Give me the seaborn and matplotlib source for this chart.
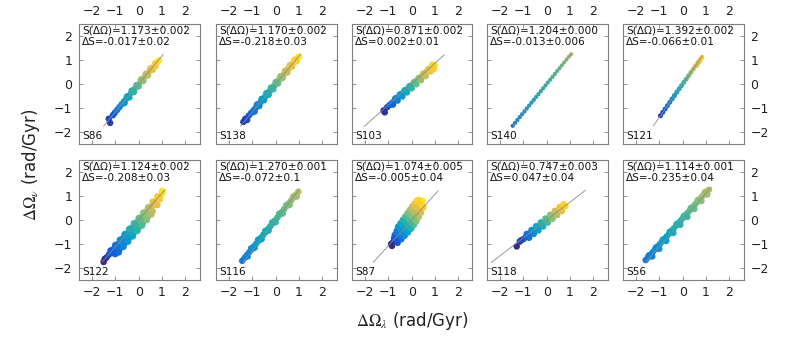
import numpy as np
import matplotlib
matplotlib.use("Agg")
import matplotlib.pyplot as plt
from matplotlib.colors import LinearSegmentedColormap
import seaborn as sns

# panel order: top row left->right, then bottom row
NAMES = ["S86", "S138", "S103", "S140", "S121", "S122", "S116", "S87", "S118", "S56"]
S_VAL = [1.173, 1.170, 0.871, 1.204, 1.392, 1.124, 1.270, 1.074, 0.747, 1.114]
S_ERR = [0.002, 0.002, 0.002, 0.000, 0.002, 0.002, 0.001, 0.005, 0.003, 0.001]
DS_VAL = [-0.017, -0.218, 0.002, -0.013, -0.066, -0.208, -0.072, -0.005, 0.047, -0.235]
DS_ERR = [0.02, 0.03, 0.01, 0.006, 0.01, 0.03, 0.1, 0.04, 0.04, 0.04]
# x range of the fitted line y = S*x
LINE_X0 = [-1.50, -1.50, -2.03, -1.45, -1.26, -1.57, -1.39, -1.65, -2.37, -1.59]
LINE_X1 = [1.06, 1.07, 1.40, 1.05, 0.86, 1.13, 1.00, 1.14, 1.66, 1.22]
# colour range (parula fraction) of each cloud, low end -> high end
C_LO = [0.08, 0.08, 0.05, 0.22, 0.08, 0.05, 0.25, 0.05, 0.05, 0.24]
C_HI = [0.90, 0.92, 0.90, 0.66, 0.85, 0.90, 0.68, 0.90, 0.90, 0.68]

X_S86 = [-1.02, -0.92, -0.82, -0.72, -0.62, -0.52, -0.42, -0.32, -0.22, -0.12, -0.02, 0.08, 0.18, 0.28,
         0.38, 0.48, 0.58, 0.68, 0.78, 0.86, -0.60, -0.40, -0.20, 0.00, 0.20, 0.40, 0.60, 0.72,
         -0.50, -0.30, -0.10, 0.10, 0.30, 0.50, 0.70, -1.28, -1.22, -1.10]
Y_S86 = [-1.20, -1.08, -0.96, -0.84, -0.72, -0.60, -0.49, -0.37, -0.26, -0.14, -0.03, 0.09, 0.20, 0.32,
         0.43, 0.55, 0.66, 0.78, 0.89, 0.98, -0.79, -0.56, -0.33, -0.10, 0.13, 0.36, 0.59, 0.74,
         -0.52, -0.28, -0.05, 0.19, 0.42, 0.65, 0.86, -1.45, -1.62, -1.30]

X_S138 = [-1.15, -1.05, -0.95, -0.85, -0.75, -0.65, -0.55, -0.45, -0.35, -0.25, -0.15, -0.05, 0.05, 0.15,
          0.25, 0.35, 0.45, 0.55, 0.65, 0.75, 0.85, 0.95, 1.00,
          -0.90, -0.70, -0.50, -0.30, -0.10, 0.10, 0.30, 0.50, 0.70, 0.90,
          -0.80, -0.60, -0.40, -0.20, 0.00, 0.20, 0.40, 0.60, 0.80, -1.30, -1.38, -1.22]
Y_S138 = [-1.32, -1.21, -1.10, -0.99, -0.88, -0.76, -0.64, -0.53, -0.41, -0.29, -0.17, -0.06, 0.06, 0.18,
          0.29, 0.41, 0.53, 0.64, 0.76, 0.88, 0.99, 1.10, 1.14,
          -1.15, -0.92, -0.68, -0.45, -0.22, 0.02, 0.25, 0.48, 0.72, 0.95,
          -0.85, -0.62, -0.38, -0.15, 0.08, 0.32, 0.55, 0.78, 1.01, -1.45, -1.58, -1.50]

X_S103 = [-1.05, -0.95, -0.85, -0.75, -0.65, -0.55, -0.45, -0.35, -0.25, -0.15, -0.05, 0.05, 0.15, 0.25,
          0.35, 0.45, 0.55, 0.65, 0.75, 0.85, 0.92,
          -0.80, -0.60, -0.40, -0.20, 0.00, 0.20, 0.40, 0.60, 0.80,
          -0.70, -0.50, -0.30, -0.10, 0.10, 0.30, 0.50, 0.70, 0.88, -1.20, -1.15, 0.98, 0.95]
Y_S103 = [-0.97, -0.88, -0.80, -0.71, -0.62, -0.53, -0.45, -0.36, -0.27, -0.18, -0.10, -0.01, 0.08, 0.17,
          0.25, 0.34, 0.43, 0.52, 0.60, 0.69, 0.72,
          -0.86, -0.69, -0.52, -0.35, -0.18, -0.01, 0.16, 0.33, 0.52,
          -0.60, -0.43, -0.26, -0.09, 0.08, 0.25, 0.44, 0.62, 0.80, -1.10, -1.18, 0.78, 0.62]

X_S140 = [-1.45, -1.35, -1.25, -1.15, -1.05, -0.95, -0.85, -0.75, -0.65, -0.55, -0.45, -0.35, -0.25,
          -0.15, -0.05, 0.05, 0.15, 0.25, 0.35, 0.45, 0.55, 0.65, 0.75, 0.85, 0.95, 1.05]
Y_S140 = [-1.74, -1.62, -1.50, -1.38, -1.26, -1.14, -1.02, -0.90, -0.78, -0.66, -0.54, -0.42, -0.30,
          -0.18, -0.06, 0.06, 0.18, 0.30, 0.42, 0.54, 0.66, 0.78, 0.90, 1.02, 1.14, 1.24]

X_S121 = [-0.95, -0.85, -0.75, -0.65, -0.55, -0.45, -0.35, -0.25, -0.15, -0.05, 0.05, 0.15, 0.25,
          0.35, 0.45, 0.55, 0.65, 0.75, 0.82, 0.60, 0.70]
Y_S121 = [-1.32, -1.18, -1.04, -0.90, -0.76, -0.62, -0.48, -0.34, -0.20, -0.07, 0.07, 0.20, 0.34,
          0.48, 0.62, 0.75, 0.89, 1.02, 1.10, 0.78, 0.92]

X_S122 = [-1.37, -1.27, -1.17, -1.07, -0.97, -0.87, -0.77, -0.67, -0.57, -0.47, -0.37, -0.27, -0.17,
          -0.07, 0.03, 0.13, 0.23, 0.33, 0.43, 0.53, 0.63, 0.73, 0.83, 0.93, 1.03,
          -1.10, -0.90, -0.70, -0.50, -0.30, -0.10, 0.10, 0.30, 0.50, 0.70, 0.90,
          -1.00, -0.80, -0.60, -0.40, -0.20, 0.00, 0.20, 0.40, 0.60, 0.80,
          -0.85, -0.65, -0.45, -0.25, -0.05, 0.15, 0.35, 0.55,
          -1.20, -1.00, -0.80, -0.60, -0.40, -0.20, 0.00, 0.20, 0.40, 0.60, 0.80, 1.00, -1.45, -1.50]
Y_S122 = [-1.56, -1.44, -1.32, -1.21, -1.10, -0.99, -0.88, -0.76, -0.65, -0.54, -0.43, -0.31, -0.20,
          -0.09, 0.02, 0.13, 0.24, 0.36, 0.47, 0.58, 0.69, 0.80, 0.91, 1.02, 1.14,
          -1.38, -1.16, -0.93, -0.71, -0.49, -0.27, -0.04, 0.18, 0.40, 0.63, 0.86,
          -1.42, -1.20, -0.98, -0.75, -0.53, -0.31, -0.08, 0.14, 0.37, 0.62,
          -1.35, -1.12, -0.90, -0.68, -0.45, -0.23, 0.00, 0.24,
          -1.27, -1.04, -0.82, -0.59, -0.37, -0.14, 0.08, 0.31, 0.53, 0.76, 0.98, 1.21, -1.62, -1.75]

X_S116 = [-1.43, -1.33, -1.23, -1.13, -1.03, -0.93, -0.83, -0.73, -0.63, -0.53, -0.43, -0.33, -0.23,
          -0.13, -0.03, 0.07, 0.17, 0.27, 0.37, 0.47, 0.57, 0.67, 0.77, 0.87, 0.97,
          -1.20, -0.90, -0.60, -0.30, 0.00, 0.30, 0.60, 0.90,
          -1.05, -0.75, -0.45, -0.15, 0.15, 0.45, 0.75]
Y_S116 = [-1.70, -1.58, -1.46, -1.34, -1.22, -1.10, -0.98, -0.86, -0.74, -0.62, -0.50, -0.38, -0.26,
          -0.14, -0.02, 0.10, 0.22, 0.34, 0.46, 0.58, 0.70, 0.82, 0.94, 1.06, 1.18,
          -1.52, -1.16, -0.80, -0.44, -0.09, 0.27, 0.63, 0.98,
          -1.18, -0.82, -0.46, -0.10, 0.26, 0.62, 0.98]

X_S87 = [-0.78, -0.70, -0.60, -0.50, -0.40, -0.30, -0.20, -0.10, 0.00, 0.10, 0.20, 0.30, 0.40, 0.47,
         -0.72, -0.64, -0.58, -0.48, -0.38, -0.28, -0.18, -0.08, 0.02, 0.12, 0.22, 0.30,
         -0.75, -0.62, -0.50, -0.38, -0.26, -0.14, -0.02, 0.10, 0.22, 0.34,
         -0.60, -0.44, -0.30, -0.16, -0.02, 0.10, 0.20, 0.30, 0.40, 0.50,
         -0.66, -0.52, -0.40, -0.28, -0.16, -0.04, 0.08, 0.20, 0.32, 0.44, -0.88, -0.84]
Y_S87 = [-0.90, -0.80, -0.67, -0.54, -0.41, -0.28, -0.15, -0.02, 0.11, 0.24, 0.37, 0.50, 0.63, 0.80,
         -0.62, -0.45, -0.28, -0.14, 0.00, 0.14, 0.28, 0.42, 0.56, 0.68, 0.80, 0.84,
         -0.75, -0.52, -0.36, -0.22, -0.08, 0.06, 0.20, 0.36, 0.52, 0.68,
         -0.95, -0.80, -0.66, -0.52, -0.36, -0.20, -0.05, 0.12, 0.30, 0.52,
         -0.88, -0.66, -0.52, -0.38, -0.24, -0.10, 0.05, 0.22, 0.40, 0.62, -1.00, -1.08]

X_S118 = [-1.00, -0.90, -0.80, -0.70, -0.60, -0.50, -0.40, -0.30, -0.20, -0.10, 0.00, 0.10, 0.20, 0.30,
          0.40, 0.50, 0.60, 0.70, 0.80,
          -0.85, -0.65, -0.45, -0.25, -0.05, 0.15, 0.35, 0.55, 0.72,
          -0.75, -0.55, -0.35, -0.15, 0.05, 0.25, 0.45, 0.65, -1.28, -1.15, -1.10]
Y_S118 = [-0.80, -0.72, -0.64, -0.56, -0.48, -0.40, -0.32, -0.25, -0.17, -0.09, -0.01, 0.07, 0.15, 0.22,
          0.30, 0.38, 0.46, 0.52, 0.58,
          -0.58, -0.42, -0.26, -0.10, 0.06, 0.22, 0.38, 0.54, 0.66,
          -0.74, -0.58, -0.43, -0.27, -0.11, 0.05, 0.21, 0.37, -1.10, -0.90, -0.85]

X_S56 = [-1.58, -1.48, -1.38, -1.28, -1.18, -1.08, -0.98, -0.88, -0.78, -0.68, -0.58, -0.48, -0.38, -0.28,
         -0.18, -0.08, 0.02, 0.12, 0.22, 0.32, 0.42, 0.52, 0.62, 0.72, 0.82, 0.92, 1.02, 1.12,
         -1.30, -1.00, -0.70, -0.40, -0.10, 0.20, 0.50, 0.80, 1.05,
         -1.45, -1.15, -0.85, -0.55, -0.25, 0.05, 0.35, 0.65, 0.95]
Y_S56 = [-1.67, -1.56, -1.45, -1.34, -1.23, -1.12, -1.01, -0.90, -0.79, -0.68, -0.57, -0.46, -0.35, -0.24,
         -0.13, -0.02, 0.09, 0.20, 0.31, 0.42, 0.53, 0.64, 0.75, 0.86, 0.97, 1.08, 1.19, 1.26,
         -1.52, -1.20, -0.87, -0.54, -0.20, 0.13, 0.46, 0.79, 1.06,
         -1.48, -1.15, -0.82, -0.49, -0.16, 0.17, 0.50, 0.83, 1.16]

CLOUDS_X = [X_S86, X_S138, X_S103, X_S140, X_S121, X_S122, X_S116, X_S87, X_S118, X_S56]
CLOUDS_Y = [Y_S86, Y_S138, Y_S103, Y_S140, Y_S121, Y_S122, Y_S116, Y_S87, Y_S118, Y_S56]
TICKS = [-2, -1, 0, 1, 2]

parula = LinearSegmentedColormap.from_list(
    "parula", ["#352a87", "#0f5cdd", "#1481d6", "#06a4ca", "#2eb7a4",
               "#87bf77", "#d1bb59", "#fec832", "#f9fb0e"])

sns.set_theme(style="white")
plt.rcParams["font.family"] = ["DejaVu Sans"]
plt.rcParams["mathtext.fontset"] = "stix"

FRAME = "#7f7f7f"
fig = plt.figure(figsize=(7.89, 3.55), dpi=100)

lefts = [79, 216, 352, 487, 623]
tops = [24, 160]
W, H = 120.5, 120

for i, name in enumerate(NAMES):
    row, col = divmod(i, 5)
    ax = fig.add_axes([lefts[col] / 789, 1 - (tops[row] + H) / 355, W / 789, H / 355])
    xs = np.array(CLOUDS_X[i])
    ys = np.array(CLOUDS_Y[i])

    # colour follows the position along the cloud (x + y), mapped onto a slice of parula
    t = xs + ys
    lo, hi = np.percentile(t, [3, 97])
    span = (hi - lo) / (C_HI[i] - C_LO[i])
    a = lo - C_LO[i] * span
    size = 9 if name == "S140" else (13 if name == "S121" else 22)
    sns.scatterplot(x=xs, y=ys, hue=t, palette=parula, hue_norm=(a, a + span),
                    s=size, linewidth=0, legend=False, ax=ax, zorder=2)

    lx = np.array([LINE_X0[i], LINE_X1[i]])
    ax.plot(lx, S_VAL[i] * lx, color="#8a8a8a", lw=0.6, zorder=3)

    ax.set_xlim(-2.55, 2.6)
    ax.set_ylim(-2.5, 2.5)
    ax.set_xticks(TICKS)
    ax.set_yticks(TICKS)
    ax.set_xlabel("")
    ax.set_ylabel("")
    for sp in ax.spines.values():
        sp.set_color(FRAME)
        sp.set_linewidth(0.8)
    ax.tick_params(direction="in", length=3, width=0.6, color=FRAME, labelsize=9,
                   labelcolor="#222222", top=True, bottom=True, left=True, right=True,
                   labeltop=(row == 0), labelbottom=(row == 1),
                   labelleft=(col == 0), labelright=(col == 4))
    ax.tick_params(axis="x", pad=4.5)
    ax.tick_params(axis="y", pad=5)

    txt = f"S(\u0394\u03a9)={S_VAL[i]:.3f}\u00b1{S_ERR[i]:.3f}\n\u0394S={DS_VAL[i]:.3f}\u00b1{DS_ERR[i]}"
    ax.text(0.025, 0.985, txt, transform=ax.transAxes, ha="left", va="top",
            fontsize=7.6, color="#111111", linespacing=1.2, zorder=4)
    ax.text(0.025, 0.025, name, transform=ax.transAxes, ha="left", va="bottom",
            fontsize=7.6, color="#111111", zorder=4)

fig.text(412 / 789, 1 - 321 / 355, r"$\Delta\Omega_\lambda$ (rad/Gyr)", ha="center", va="center",
         fontsize=12, color="#222222")
fig.text(31 / 789, 1 - 165 / 355, r"$\Delta\Omega_\nu$ (rad/Gyr)", ha="center", va="center",
         rotation=90, fontsize=12, color="#222222")

fig.savefig("out.png", dpi=100)
